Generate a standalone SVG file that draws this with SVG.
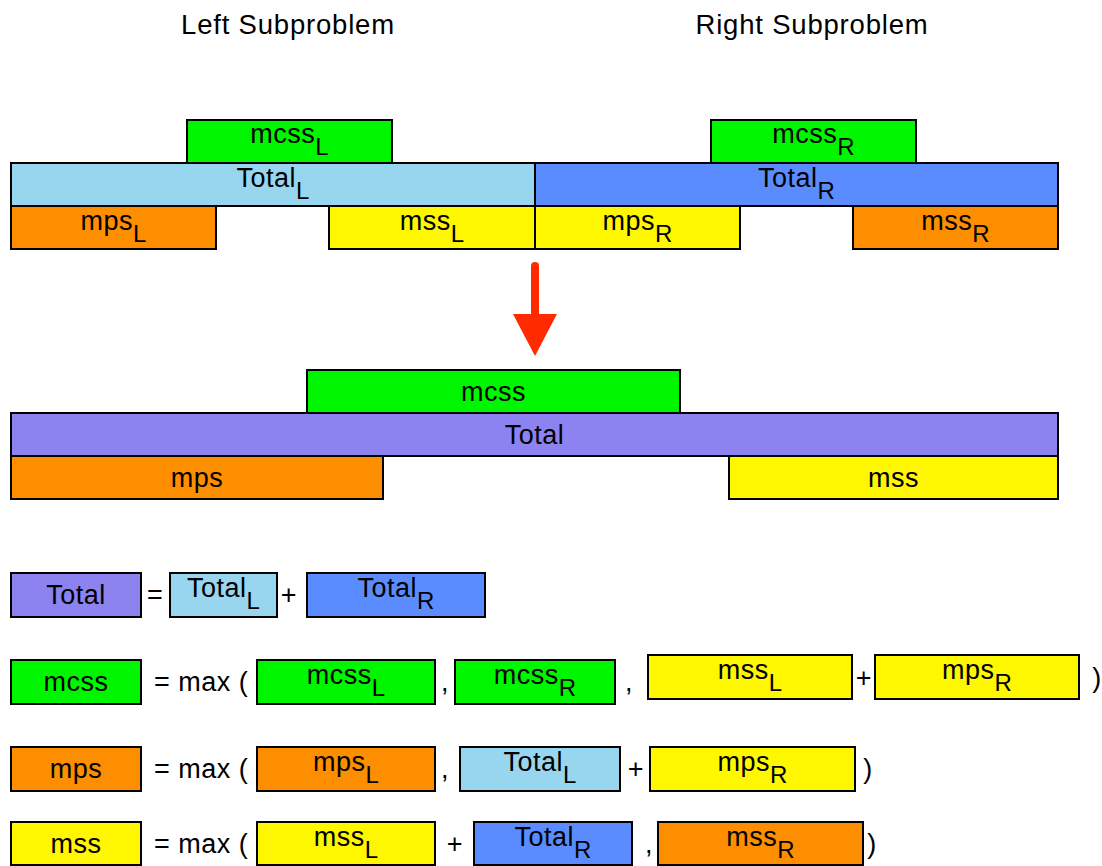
<svg xmlns="http://www.w3.org/2000/svg" width="1102" height="866" viewBox="0 0 1102 866">
  <style>
    text { font-family: "Liberation Sans", Arial, sans-serif; font-size: 27px; fill: #000; letter-spacing: 0.5px; }
    .title { font-size: 27.5px; letter-spacing: 0.8px; }
    .c { text-anchor: middle; }
    .sub { font-size: 24px; letter-spacing: 0; }
    rect { stroke: #000; stroke-width: 2; }
    .green { fill: #00f500; }
    .lblue { fill: #98d6ef; }
    .blue { fill: #5a8cff; }
    .orange { fill: #fd8e00; }
    .yellow { fill: #fff700; }
    .purple { fill: #8c82f0; }
  </style>

  <!-- titles -->
  <text id="title-left" class="c title" x="288" y="34">Left Subproblem</text>
  <text id="title-right" class="c title" x="812" y="34">Right Subproblem</text>

  <!-- left subproblem -->
  <g id="mcssL"><rect class="green" x="187" y="120" width="205" height="43"/><text class="c" x="289.5" y="143">mcss<tspan class="sub" dy="12">L</tspan></text></g>
  <g id="totalL"><rect class="lblue" x="11" y="163" width="524" height="43"/><text class="c" x="273" y="187">Total<tspan class="sub" dy="12">L</tspan></text></g>
  <g id="mpsL"><rect class="orange" x="11" y="206" width="205" height="43"/><text class="c" x="113.5" y="230">mps<tspan class="sub" dy="12">L</tspan></text></g>
  <g id="mssL"><rect class="yellow" x="329" y="206" width="206" height="43"/><text class="c" x="432" y="230">mss<tspan class="sub" dy="12">L</tspan></text></g>

  <!-- right subproblem -->
  <g id="mcssR"><rect class="green" x="711" y="120" width="205" height="43"/><text class="c" x="813.5" y="143">mcss<tspan class="sub" dy="12">R</tspan></text></g>
  <g id="totalR"><rect class="blue" x="535" y="163" width="523" height="43"/><text class="c" x="796.5" y="187">Total<tspan class="sub" dy="12">R</tspan></text></g>
  <g id="mpsR"><rect class="yellow" x="535" y="206" width="205" height="43"/><text class="c" x="637.5" y="230">mps<tspan class="sub" dy="12">R</tspan></text></g>
  <g id="mssR"><rect class="orange" x="853" y="206" width="205" height="43"/><text class="c" x="955.5" y="230">mss<tspan class="sub" dy="12">R</tspan></text></g>

  <!-- combine step -->
  <g id="connectors">
    <line x1="535" y1="266" x2="535" y2="318" stroke="#ff2a00" stroke-width="8" stroke-linecap="round"/>
    <polygon points="513,314 557,314 535,356" fill="#ff2a00"/>
  </g>

  <!-- combined result -->
  <g id="mcss"><rect class="green" x="307" y="370" width="373" height="43"/><text class="c" x="493.5" y="401">mcss</text></g>
  <g id="total"><rect class="purple" x="11" y="413" width="1047" height="43"/><text class="c" x="534.5" y="444">Total</text></g>
  <g id="mps"><rect class="orange" x="11" y="456" width="372" height="43"/><text class="c" x="197" y="487">mps</text></g>
  <g id="mss"><rect class="yellow" x="729" y="456" width="329" height="43"/><text class="c" x="893.5" y="487">mss</text></g>

  <!-- Total = TotalL + TotalR -->
  <g id="eq-total">
    <rect class="purple" x="11" y="573" width="130" height="44"/><text class="c" x="76" y="604">Total</text>
    <text x="147" y="604">=</text>
    <rect class="lblue" x="170" y="573" width="107" height="44"/><text class="c" x="223.5" y="597">Total<tspan class="sub" dy="12">L</tspan></text>
    <text class="c" x="289" y="604">+</text>
    <rect class="blue" x="307" y="573" width="178" height="44"/><text class="c" x="396" y="597">Total<tspan class="sub" dy="12">R</tspan></text>
  </g>

  <!-- mcss = max(mcssL, mcssR, mssL + mpsR) -->
  <g id="eq-mcss">
    <rect class="green" x="11" y="660" width="130" height="44"/><text class="c" x="76" y="691">mcss</text>
    <text x="154" y="691">= max (</text>
    <rect class="green" x="257" y="660" width="178" height="44"/><text class="c" x="346" y="684">mcss<tspan class="sub" dy="12">L</tspan></text>
    <text class="c" x="445" y="691">,</text>
    <rect class="green" x="455" y="660" width="160" height="44"/><text class="c" x="535" y="684">mcss<tspan class="sub" dy="12">R</tspan></text>
    <text class="c" x="629" y="691">,</text>
    <rect class="yellow" x="648" y="655" width="204" height="44"/><text class="c" x="750" y="679">mss<tspan class="sub" dy="12">L</tspan></text>
    <text class="c" x="864" y="687">+</text>
    <rect class="yellow" x="875" y="655" width="204" height="44"/><text class="c" x="977" y="679">mps<tspan class="sub" dy="12">R</tspan></text>
    <text class="c" x="1097" y="687">)</text>
  </g>

  <!-- mps = max(mpsL, TotalL + mpsR) -->
  <g id="eq-mps">
    <rect class="orange" x="11" y="747" width="130" height="44"/><text class="c" x="76" y="778">mps</text>
    <text x="154" y="778">= max (</text>
    <rect class="orange" x="257" y="747" width="178" height="44"/><text class="c" x="346" y="771">mps<tspan class="sub" dy="12">L</tspan></text>
    <text class="c" x="445" y="778">,</text>
    <rect class="lblue" x="460" y="747" width="160" height="44"/><text class="c" x="540" y="771">Total<tspan class="sub" dy="12">L</tspan></text>
    <text class="c" x="636" y="778">+</text>
    <rect class="yellow" x="650" y="747" width="205" height="44"/><text class="c" x="752.5" y="771">mps<tspan class="sub" dy="12">R</tspan></text>
    <text class="c" x="868" y="778">)</text>
  </g>

  <!-- mss = max(mssL + TotalR, mssR) -->
  <g id="eq-mss">
    <rect class="yellow" x="11" y="822" width="130" height="43"/><text class="c" x="76" y="853">mss</text>
    <text x="154" y="853">= max (</text>
    <rect class="yellow" x="257" y="822" width="178" height="43"/><text class="c" x="346" y="846">mss<tspan class="sub" dy="12">L</tspan></text>
    <text class="c" x="455" y="853">+</text>
    <rect class="blue" x="474" y="822" width="158" height="43"/><text class="c" x="553" y="846">Total<tspan class="sub" dy="12">R</tspan></text>
    <text class="c" x="649" y="853">,</text>
    <rect class="orange" x="658" y="822" width="205" height="43"/><text class="c" x="760.5" y="846">mss<tspan class="sub" dy="12">R</tspan></text>
    <text class="c" x="872" y="853">)</text>
  </g>
</svg>
